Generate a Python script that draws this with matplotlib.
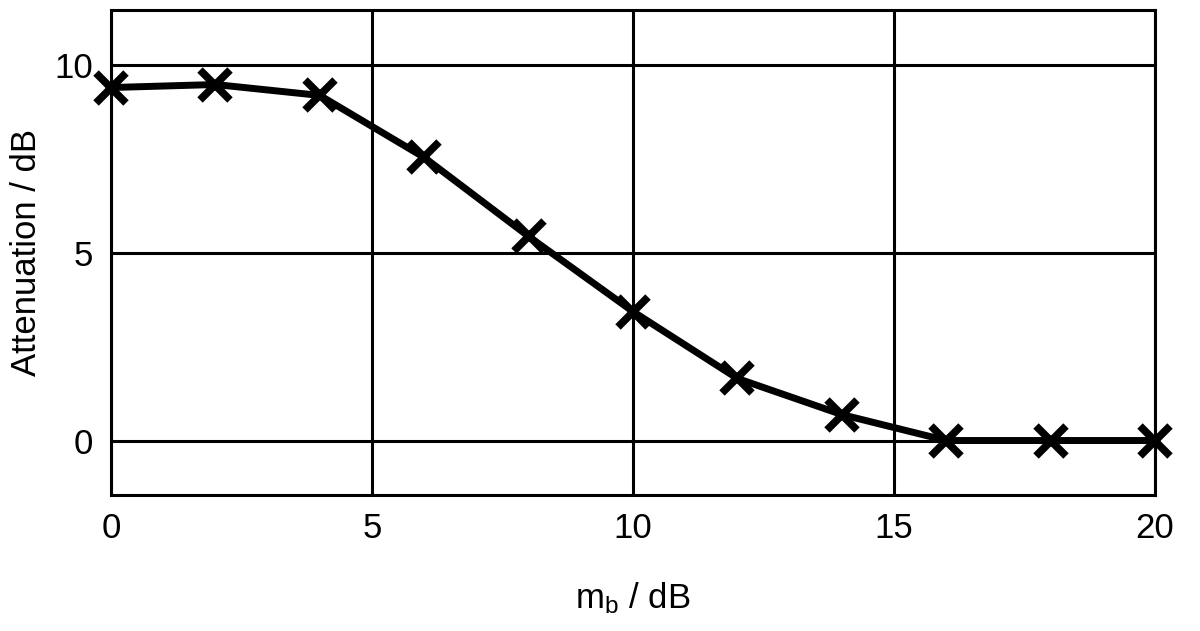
import numpy as np
import matplotlib
matplotlib.use("Agg")
import matplotlib.pyplot as plt

plt.rcParams['font.family'] = ['Liberation Sans', 'DejaVu Sans']
plt.rcParams['mathtext.fontset'] = 'custom'
plt.rcParams['mathtext.rm'] = 'Liberation Sans'
plt.rcParams['mathtext.it'] = 'Liberation Sans'

# data
mb = [0, 2, 4, 6, 8, 10, 12, 14, 16, 18, 20]
attenuation = [9.39, 9.47, 9.18, 7.53, 5.43, 3.43, 1.65, 0.69, 0.0, 0.0, 0.0]
xticks = [0, 5, 10, 15, 20]
yticks = [0, 5, 10]

fig = plt.figure(figsize=(12, 6.31), dpi=100)
ax = fig.add_axes([0.0925, 0.2155, 0.87, 0.7685])

ax.set_axisbelow(True)
ax.grid(True, color='k', linewidth=2.2)
for s in ax.spines.values():
    s.set_linewidth(2.2)

ax.plot(mb, attenuation, color='k', linewidth=5, marker='x',
        markersize=21, markeredgewidth=5.5, clip_on=False, zorder=3)

ax.set_xlim(0, 20)
ax.set_ylim(-1.45, 11.45)
ax.set_xticks(xticks)
ax.set_yticks(yticks)
ax.tick_params(length=0, labelsize=25)
ax.tick_params(axis='x', pad=12)
ax.tick_params(axis='y', pad=13)

ax.set_xlabel(r"$\mathregular{m_b}$ / dB", fontsize=25, labelpad=26)
ax.set_ylabel("Attenuation / dB", fontsize=25, labelpad=8)

plt.savefig("out.png", dpi=100)
